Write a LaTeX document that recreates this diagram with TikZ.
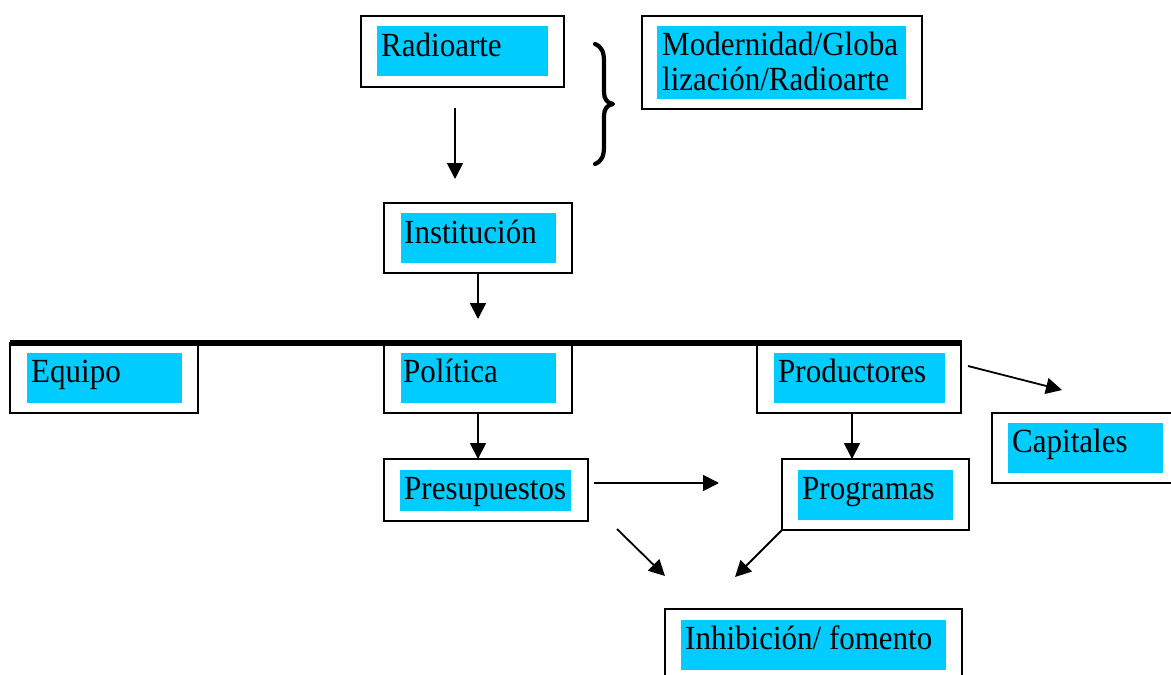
\documentclass[tikz,border=0pt]{standalone}
\usepackage{graphicx}
\usepackage{fontspec}
\setmainfont{Liberation Serif}
\usetikzlibrary{arrows.meta}
\definecolor{cyanbox}{RGB}{0,204,255}
\newcommand{\tallt}[1]{\scalebox{1}[1.09]{#1}}
\tikzset{
  obox/.style={draw=black, line width=1.8pt, fill=white, inner sep=0pt, outer sep=0pt, rectangle, anchor=north west},
  cbox/.style={fill=cyanbox, inner sep=0pt, outer sep=0pt, rectangle, anchor=north west},
  lbl/.style={inner sep=0pt, anchor=base west, font=\fontsize{31}{35}\selectfont},
  arr/.style={line width=1.8pt, -{Triangle[length=16pt,width=16pt]}},
  thickbar/.style={line width=5.5pt},
  bracestyle/.style={line width=4.2pt, line cap=round, line join=round},
}
\newcommand{\mybox}[5]{%
  \node[obox, minimum width=#4pt-#2pt, minimum height=#5pt-#3pt] (#1) at (#2,#3) {};}
\newcommand{\mycyan}[5]{%
  \node[cbox, minimum width=#4pt-#2pt, minimum height=#5pt-#3pt] (#1) at (#2,#3) {};}
\begin{document}
\begin{tikzpicture}[x=1pt,y=-1pt]
\useasboundingbox (0,0) rectangle (1171,675);
\clip (0,0) rectangle (1171,675);
% boxes
\mybox{radio}{361}{16}{564}{87}
\mycyan{radioc}{377}{26}{548}{76}
\node[lbl] (radiot) at (381,56) {\tallt{Radioarte}};

\mybox{mod}{642}{16}{922}{109}
\mycyan{modc}{657}{26}{906}{99}
\node[lbl] (modt1) at (662,55) {\tallt{Modernidad/Globa}};
\node[lbl] (modt2) at (662,90) {\tallt{lización/Radioarte}};

\mybox{inst}{384}{203}{572}{273}
\mycyan{instc}{401}{213}{556}{263}
\node[lbl] (instt) at (404,243) {\tallt{Institución}};

\mybox{equipo}{10}{343}{198}{413}
\mycyan{equipoc}{27}{353}{182}{403}
\node[lbl] (equipot) at (31,382) {\tallt{Equipo}};

\mybox{pol}{384}{343}{572}{413}
\mycyan{polc}{401}{353}{556}{403}
\node[lbl] (polt) at (403,382) {\tallt{Política}};

\mybox{prod}{757}{343}{961}{413}
\mycyan{prodc}{774}{353}{945}{403}
\node[lbl] (prodt) at (778,382) {\tallt{Productores}};

\mybox{cap}{992}{413}{1185}{483}
\mycyan{capc}{1008}{423}{1163}{473}
\node[lbl] (capt) at (1012,452) {\tallt{Capitales}};

\mybox{presup}{384}{459}{588}{521}
\mycyan{presupc}{400}{470}{571}{511}
\node[lbl] (presupt) at (404,499) {\tallt{Presupuestos}};

\mybox{prog}{782}{459}{969}{530}
\mycyan{progc}{798}{470}{953}{520}
\node[lbl] (progt) at (802,499) {\tallt{Programas}};

\mybox{inhib}{665}{609}{962}{695}
\mycyan{inhibc}{681}{620}{946}{670}
\node[lbl] (inhibt) at (685,649) {\tallt{Inhibición/ fomento}};

% thick bar
\coordinate (barL) at (10,343);
\coordinate (barR) at (962,343);
\draw[thickbar] (barL) -- (barR);

% brace
\coordinate (brT) at (595,44);
\coordinate (brM) at (613,104);
\coordinate (brB) at (595,164);
\draw[bracestyle] (brT) .. controls (602,47) and (604,52) .. (604,62)
  -- (604,92) .. controls (604,99) and (607,103) .. (brM)
  .. controls (607,105) and (604,109) .. (604,116)
  -- (604,146) .. controls (604,156) and (602,161) .. (brB);

% arrows
\coordinate (a1s) at (455,108);
\coordinate (a1e) at (455,179);
\draw[arr] (a1s) -- (a1e);

\coordinate (a2s) at (478,273);
\coordinate (a2e) at (478,319);
\draw[arr] (a2s) -- (a2e);

\coordinate (a3s) at (478,413);
\coordinate (a3e) at (478,459);
\draw[arr] (a3s) -- (a3e);

\coordinate (a4s) at (852,413);
\coordinate (a4e) at (852,459);
\draw[arr] (a4s) -- (a4e);

\coordinate (a5s) at (968,366);
\coordinate (a5e) at (1062,390);
\draw[arr] (a5s) -- (a5e);

\coordinate (a6s) at (594,483);
\coordinate (a6e) at (719,483);
\draw[arr] (a6s) -- (a6e);

\coordinate (a7s) at (617,529);
\coordinate (a7e) at (665,576);
\draw[arr] (a7s) -- (a7e);

\coordinate (a8e) at (735,577);
\draw[arr] (prog.south west) -- (a8e);
\end{tikzpicture}
\end{document}
